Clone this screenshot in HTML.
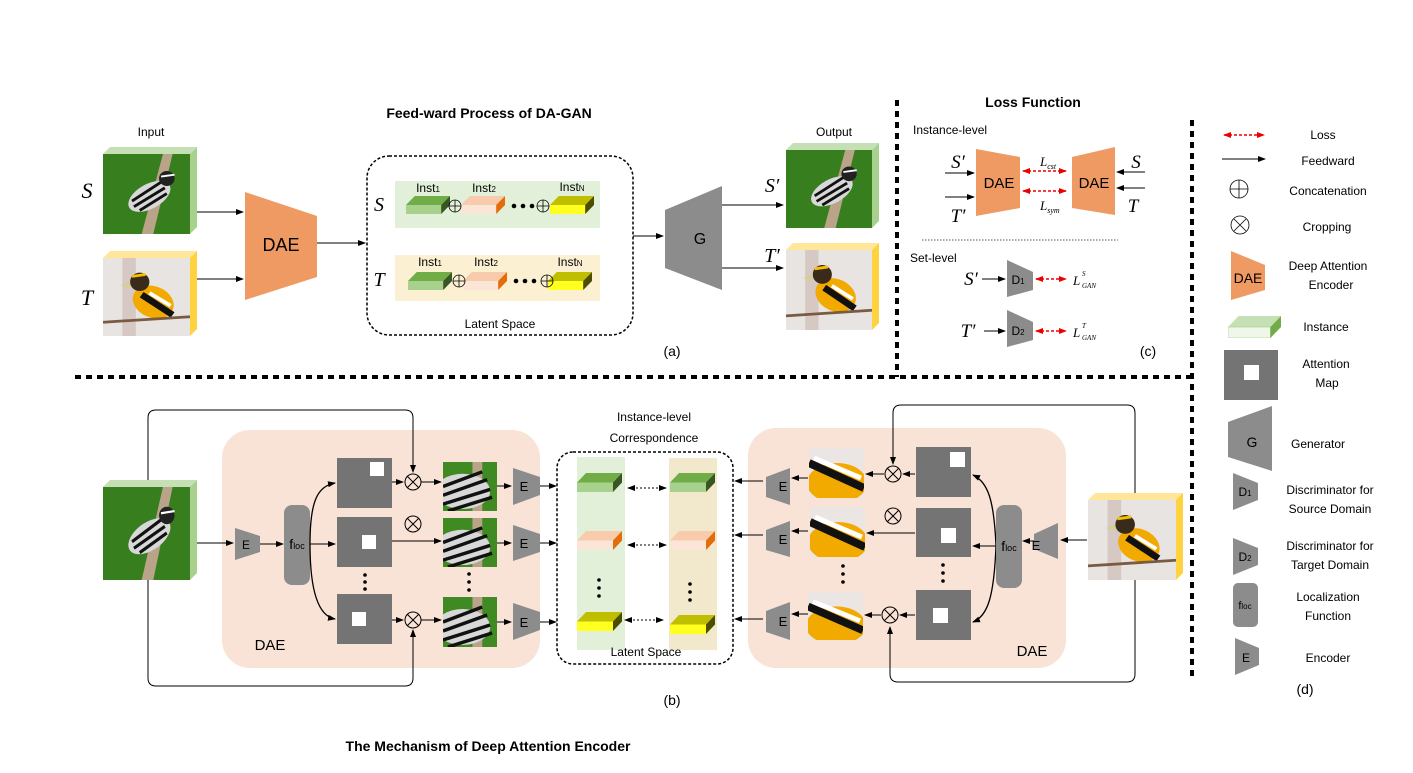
<!DOCTYPE html>
<html><head><meta charset="utf-8"><style>
html,body{margin:0;padding:0;background:#fff;}
svg{display:block;font-family:"Liberation Sans",sans-serif;}
.it{font-family:"Liberation Serif",serif;font-style:italic;}
</style></head><body>
<svg width="1413" height="773" viewBox="0 0 1413 773" xmlns="http://www.w3.org/2000/svg">
<defs>
<marker id="ar" markerWidth="8" markerHeight="8" refX="7" refY="4" orient="auto" markerUnits="userSpaceOnUse"><path d="M0,1 L8,4 L0,7 z" fill="#000"/></marker>
<marker id="rr" markerWidth="8" markerHeight="8" refX="7" refY="4" orient="auto" markerUnits="userSpaceOnUse"><path d="M0,1 L8,4 L0,7 z" fill="#e00"/></marker>
<marker id="rl" markerWidth="8" markerHeight="8" refX="1" refY="4" orient="auto" markerUnits="userSpaceOnUse"><path d="M8,1 L0,4 L8,7 z" fill="#e00"/></marker>
<marker id="bl" markerWidth="8" markerHeight="8" refX="1" refY="4" orient="auto" markerUnits="userSpaceOnUse"><path d="M8,1 L0,4 L8,7 z" fill="#000"/></marker>
<symbol id="bg" viewBox="0 0 50 20" preserveAspectRatio="none"><polygon points="0,10 40,10 50,0 10,0" fill="#70ad47"/><rect x="0" y="10" width="40" height="10" fill="#a9d18e"/><polygon points="40,10 50,0 50,10 40,20" fill="#375623"/></symbol>
<symbol id="bs" viewBox="0 0 50 20" preserveAspectRatio="none"><polygon points="0,10 40,10 50,0 10,0" fill="#f8cbad"/><rect x="0" y="10" width="40" height="10" fill="#fbe5d6"/><polygon points="40,10 50,0 50,10 40,20" fill="#e46c0a"/></symbol>
<symbol id="by" viewBox="0 0 50 20" preserveAspectRatio="none"><polygon points="0,10 40,10 50,0 10,0" fill="#bfbf00"/><rect x="0" y="10" width="40" height="10" fill="#ffff20"/><polygon points="40,10 50,0 50,10 40,20" fill="#4d4d00"/></symbol>
<symbol id="bl2" viewBox="0 0 50 20" preserveAspectRatio="none"><polygon points="0,10 40,10 50,0 10,0" fill="#c5e0b4"/><rect x="0" y="10" width="40" height="10" fill="#eef7e8" stroke="#a9d18e" stroke-width="0.6"/><polygon points="40,10 50,0 50,10 40,20" fill="#70ad47"/></symbol>
<symbol id="sb" viewBox="0 0 90 85" preserveAspectRatio="none"><rect width="90" height="85" fill="#3f8a22"/><rect width="90" height="85" fill="#2d6b18" opacity=".4"/><polygon points="62,0 72,0 52,85 40,85" fill="#b9a48a"/><ellipse cx="48" cy="45" rx="24" ry="13" fill="#d8d8d8" transform="rotate(-30 48 45)"/><path d="M30,50 L60,30 M32,56 L64,36 M38,60 L66,42" stroke="#111" stroke-width="3"/><circle cx="66" cy="26" r="8" fill="#222"/><path d="M60,24 L74,22" stroke="#fff" stroke-width="2"/></symbol>
<symbol id="tb" viewBox="0 0 90 85" preserveAspectRatio="none"><rect width="90" height="85" fill="#e8e4e2"/><rect x="20" y="0" width="14" height="85" fill="#c9b8b0" opacity=".6"/><ellipse cx="52" cy="48" rx="22" ry="17" fill="#f2a900" transform="rotate(25 52 48)"/><path d="M40,40 L72,62" stroke="#111" stroke-width="7"/><path d="M48,38 L70,52" stroke="#fff" stroke-width="4"/><circle cx="38" cy="26" r="10" fill="#3a2a1a"/><path d="M30,20 L44,18" stroke="#f5c000" stroke-width="3"/><polygon points="28,26 18,30 28,32" fill="#d6d08a"/><path d="M0,70 L90,64" stroke="#7a5a40" stroke-width="3"/></symbol>
<symbol id="sc" viewBox="0 0 55 50" preserveAspectRatio="none"><rect width="55" height="50" fill="#3f8a22"/><rect x="30" width="10" height="50" fill="#b9a48a"/><ellipse cx="20" cy="30" rx="28" ry="18" fill="#d8d8d8"/><path d="M0,25 L40,10 M0,34 L45,18 M0,43 L48,28 M5,50 L50,36" stroke="#111" stroke-width="3.5"/></symbol>
<symbol id="tc" viewBox="0 0 55 50" preserveAspectRatio="none"><rect width="55" height="50" fill="#ebe6e4"/><ellipse cx="28" cy="35" rx="30" ry="20" fill="#f2a900"/><path d="M0,15 L55,40" stroke="#111" stroke-width="8"/><path d="M5,10 L52,30" stroke="#fff" stroke-width="5"/></symbol>
<symbol id="am" viewBox="0 0 55 50" preserveAspectRatio="none"><rect width="55" height="50" fill="#747474"/></symbol>
</defs>

<!-- separators -->
<line x1="75" y1="377" x2="1190" y2="377" stroke="#000" stroke-width="4" stroke-dasharray="6,5"/>
<line x1="897" y1="100" x2="897" y2="377" stroke="#000" stroke-width="4" stroke-dasharray="6,5"/>
<line x1="1192" y1="120" x2="1192" y2="680" stroke="#000" stroke-width="4" stroke-dasharray="6,5"/>

<!-- (a) -->
<text x="489" y="118" font-size="14" font-weight="bold" text-anchor="middle">Feed-ward Process of DA-GAN</text>
<text x="151" y="136" font-size="12" text-anchor="middle">Input</text>
<polygon points="103,154 110,147 197,147 190,154" fill="#c5e0b4"/><polygon points="190,154 197,147 197,227 190,234" fill="#a9d18e"/>
<use href="#sb" x="103" y="154" width="87" height="80"/>
<polygon points="103,258 110,251 197,251 190,258" fill="#ffe699"/><polygon points="190,258 197,251 197,329 190,336" fill="#ffd33f"/>
<use href="#tb" x="103" y="258" width="87" height="78"/>
<text x="87" y="198" font-size="22" class="it" text-anchor="middle">S</text>
<text x="87" y="305" font-size="22" class="it" text-anchor="middle">T</text>
<line x1="197" y1="212" x2="243" y2="212" stroke="#000" marker-end="url(#ar)"/>
<line x1="197" y1="279" x2="243" y2="279" stroke="#000" marker-end="url(#ar)"/>
<polygon points="245,192 317,216 317,277 245,300" fill="#ee9a62"/>
<text x="281" y="251" font-size="18" text-anchor="middle">DAE</text>
<line x1="317" y1="243" x2="365" y2="243" stroke="#000" marker-end="url(#ar)"/>
<rect x="367" y="156" width="266" height="179" rx="22" fill="none" stroke="#000" stroke-width="1.5" stroke-dasharray="3,2"/>
<rect x="395" y="181" width="205" height="47" fill="#e2f0d9"/>
<rect x="395" y="255" width="205" height="46" fill="#fbf0d2"/>
<text x="379" y="211" font-size="20" class="it" text-anchor="middle">S</text>
<text x="379" y="286" font-size="20" class="it" text-anchor="middle">T</text>
<g font-size="12" text-anchor="middle">
<text x="428" y="192">Inst<tspan font-size="8">1</tspan></text><text x="484" y="192">Inst<tspan font-size="8">2</tspan></text><text x="572" y="191">Inst<tspan font-size="8">N</tspan></text>
<text x="430" y="266">Inst<tspan font-size="8">1</tspan></text><text x="486" y="266">Inst<tspan font-size="8">2</tspan></text><text x="570" y="266">Inst<tspan font-size="8">N</tspan></text>
</g>
<use href="#bg" x="406" y="196" width="44" height="18"/><use href="#bs" x="461" y="196" width="44" height="18"/><use href="#by" x="550" y="196" width="44" height="18"/>
<use href="#bg" x="408" y="272" width="44" height="18"/><use href="#bs" x="463" y="272" width="44" height="18"/><use href="#by" x="548" y="272" width="44" height="18"/>
<g fill="none" stroke="#000" stroke-width="0.8">
<circle cx="455" cy="206" r="6"/><path d="M449,206h12M455,200v12"/>
<circle cx="543" cy="206" r="6"/><path d="M537,206h12M543,200v12"/>
<circle cx="459" cy="281" r="6"/><path d="M453,281h12M459,275v12"/>
<circle cx="547" cy="281" r="6"/><path d="M541,281h12M547,275v12"/>
</g>
<g fill="#000"><circle cx="514" cy="206" r="2.3"/><circle cx="523" cy="206" r="2.3"/><circle cx="532" cy="206" r="2.3"/><circle cx="516" cy="281" r="2.3"/><circle cx="525" cy="281" r="2.3"/><circle cx="534" cy="281" r="2.3"/></g>
<text x="500" y="328" font-size="12" text-anchor="middle">Latent Space</text>
<line x1="633" y1="236" x2="663" y2="236" stroke="#000" marker-end="url(#ar)"/>
<polygon points="665,210 722,186 722,290 665,268" fill="#8c8c8c"/>
<text x="700" y="244" font-size="16" text-anchor="middle">G</text>
<line x1="722" y1="205" x2="783" y2="205" stroke="#000" marker-end="url(#ar)"/>
<line x1="722" y1="268" x2="783" y2="268" stroke="#000" marker-end="url(#ar)"/>
<text x="772" y="192" font-size="20" class="it" text-anchor="middle">S′</text>
<text x="772" y="262" font-size="20" class="it" text-anchor="middle">T′</text>
<text x="834" y="136" font-size="12" text-anchor="middle">Output</text>
<polygon points="786,150 793,143 879,143 872,150" fill="#c5e0b4"/><polygon points="872,150 879,143 879,221 872,228" fill="#a9d18e"/>
<use href="#sb" x="786" y="150" width="86" height="78"/>
<polygon points="786,250 793,243 879,243 872,250" fill="#ffe699"/><polygon points="872,250 879,243 879,323 872,330" fill="#ffd33f"/>
<use href="#tb" x="786" y="250" width="86" height="80"/>
<text x="672" y="356" font-size="14" text-anchor="middle">(a)</text>

<!-- (c) -->
<text x="1033" y="107" font-size="14" font-weight="bold" text-anchor="middle">Loss Function</text>
<text x="913" y="134" font-size="12">Instance-level</text>
<polygon points="976,149 1020,157 1020,208 976,216" fill="#ee9a62"/>
<text x="999" y="188" font-size="15" text-anchor="middle">DAE</text>
<polygon points="1072,157 1115,147 1115,215 1072,208" fill="#ee9a62"/>
<text x="1094" y="188" font-size="15" text-anchor="middle">DAE</text>
<line x1="1023" y1="171" x2="1066" y2="171" stroke="#e00" stroke-width="1.5" stroke-dasharray="3,2" marker-end="url(#rr)" marker-start="url(#rl)"/>
<line x1="1023" y1="191" x2="1066" y2="191" stroke="#e00" stroke-width="1.5" stroke-dasharray="3,2" marker-end="url(#rr)" marker-start="url(#rl)"/>
<text x="1040" y="166" font-size="13" class="it">L<tspan font-size="8" dy="3">cst</tspan></text>
<text x="1040" y="210" font-size="13" class="it">L<tspan font-size="8" dy="3">sym</tspan></text>
<text x="958" y="168" font-size="19" class="it" text-anchor="middle">S′</text>
<text x="958" y="222" font-size="19" class="it" text-anchor="middle">T′</text>
<line x1="945" y1="173" x2="974" y2="173" stroke="#000" marker-end="url(#ar)"/>
<line x1="945" y1="197" x2="974" y2="197" stroke="#000" marker-end="url(#ar)"/>
<text x="1136" y="168" font-size="19" class="it" text-anchor="middle">S</text>
<text x="1133" y="212" font-size="19" class="it" text-anchor="middle">T</text>
<line x1="1145" y1="172" x2="1117" y2="172" stroke="#000" marker-end="url(#ar)"/>
<line x1="1145" y1="188" x2="1117" y2="188" stroke="#000" marker-end="url(#ar)"/>
<line x1="922" y1="240" x2="1118" y2="240" stroke="#555" stroke-dasharray="1.5,1.5"/>
<text x="910" y="262" font-size="12">Set-level</text>
<polygon points="1007,260 1033,272 1033,290 1007,297" fill="#8c8c8c"/>
<text x="1018" y="284" font-size="12" text-anchor="middle">D<tspan font-size="8">1</tspan></text>
<polygon points="1007,310 1033,322 1033,340 1007,347" fill="#8c8c8c"/>
<text x="1018" y="335" font-size="12" text-anchor="middle">D<tspan font-size="8">2</tspan></text>
<text x="971" y="285" font-size="19" class="it" text-anchor="middle">S′</text>
<text x="968" y="337" font-size="19" class="it" text-anchor="middle">T′</text>
<line x1="982" y1="279" x2="1005" y2="279" stroke="#000" marker-end="url(#ar)"/>
<line x1="984" y1="331" x2="1005" y2="331" stroke="#000" marker-end="url(#ar)"/>
<line x1="1036" y1="279" x2="1066" y2="279" stroke="#e00" stroke-width="1.5" stroke-dasharray="3,2" marker-end="url(#rr)" marker-start="url(#rl)"/>
<line x1="1036" y1="331" x2="1066" y2="331" stroke="#e00" stroke-width="1.5" stroke-dasharray="3,2" marker-end="url(#rr)" marker-start="url(#rl)"/>
<text x="1073" y="285" font-size="13" class="it">L</text><text x="1082" y="276" font-size="7" class="it">S</text><text x="1082" y="288" font-size="7" class="it">GAN</text>
<text x="1073" y="337" font-size="13" class="it">L</text><text x="1082" y="328" font-size="7" class="it">T</text><text x="1082" y="340" font-size="7" class="it">GAN</text>
<text x="1148" y="356" font-size="14" text-anchor="middle">(c)</text>

<!-- (d) legend -->
<line x1="1224" y1="135" x2="1264" y2="135" stroke="#e00" stroke-width="1.5" stroke-dasharray="3,2" marker-end="url(#rr)" marker-start="url(#rl)"/>
<text x="1323" y="139" font-size="12" text-anchor="middle">Loss</text>
<line x1="1222" y1="159" x2="1265" y2="159" stroke="#000" marker-end="url(#ar)"/>
<text x="1328" y="165" font-size="12" text-anchor="middle">Feedward</text>
<g fill="none" stroke="#000" stroke-width="0.8"><circle cx="1239" cy="189" r="9"/><path d="M1230,189h18M1239,180v18"/><circle cx="1240" cy="225" r="9"/><path d="M1234,219l12,12M1246,219l-12,12"/></g>
<text x="1328" y="195" font-size="12" text-anchor="middle">Concatenation</text>
<text x="1327" y="231" font-size="12" text-anchor="middle">Cropping</text>
<polygon points="1231,251 1265,265 1265,290 1231,300" fill="#ee9a62"/>
<text x="1248" y="283" font-size="14" text-anchor="middle">DAE</text>
<text x="1328" y="270" font-size="12" text-anchor="middle">Deep Attention</text>
<text x="1331" y="289" font-size="12" text-anchor="middle">Encoder</text>
<use href="#bl2" x="1228" y="316" width="53" height="22"/>
<text x="1326" y="331" font-size="12" text-anchor="middle">Instance</text>
<rect x="1224" y="350" width="54" height="50" fill="#747474"/><rect x="1244" y="365" width="15" height="15" fill="#fff"/>
<text x="1326" y="368" font-size="12" text-anchor="middle">Attention</text>
<text x="1327" y="387" font-size="12" text-anchor="middle">Map</text>
<polygon points="1228,422 1272,406 1272,471 1228,457" fill="#8c8c8c"/>
<text x="1252" y="447" font-size="14" text-anchor="middle">G</text>
<text x="1318" y="448" font-size="12" text-anchor="middle">Generator</text>
<polygon points="1233,473 1258,483 1258,500 1233,510" fill="#8c8c8c"/>
<text x="1245" y="496" font-size="12" text-anchor="middle">D<tspan font-size="8">1</tspan></text>
<text x="1330" y="494" font-size="12" text-anchor="middle">Discriminator for</text>
<text x="1330" y="513" font-size="12" text-anchor="middle">Source Domain</text>
<polygon points="1233,538 1258,548 1258,565 1233,575" fill="#8c8c8c"/>
<text x="1245" y="561" font-size="12" text-anchor="middle">D<tspan font-size="8">2</tspan></text>
<text x="1330" y="550" font-size="12" text-anchor="middle">Discriminator for</text>
<text x="1330" y="569" font-size="12" text-anchor="middle">Target Domain</text>
<rect x="1233" y="583" width="25" height="44" rx="5" fill="#8c8c8c"/>
<text x="1245" y="609" font-size="11" text-anchor="middle">f<tspan font-size="8">loc</tspan></text>
<text x="1328" y="601" font-size="12" text-anchor="middle">Localization</text>
<text x="1328" y="620" font-size="12" text-anchor="middle">Function</text>
<polygon points="1235,638 1259,648 1259,665 1235,675" fill="#8c8c8c"/>
<text x="1246" y="662" font-size="12" text-anchor="middle">E</text>
<text x="1328" y="662" font-size="12" text-anchor="middle">Encoder</text>
<text x="1305" y="694" font-size="14" text-anchor="middle">(d)</text>

<!-- (b) -->
<rect x="222" y="430" width="318" height="238" rx="28" fill="#f8e3d6"/>
<rect x="748" y="428" width="318" height="240" rx="28" fill="#f8e3d6"/>
<!-- loops -->
<path d="M148,480 V418 Q148,410 156,410 H405 Q413,410 413,418 V472" fill="none" stroke="#000" marker-end="url(#ar)"/>
<path d="M148,580 V678 Q148,686 156,686 H405 Q413,686 413,678 V630" fill="none" stroke="#000" marker-end="url(#ar)"/>
<path d="M1135,493 V413 Q1135,405 1127,405 H901 Q893,405 893,413 V464" fill="none" stroke="#000" marker-end="url(#ar)"/>
<path d="M1135,580 V674 Q1135,682 1127,682 H898 Q890,682 890,674 V627" fill="none" stroke="#000" marker-end="url(#ar)"/>
<!-- source image -->
<polygon points="103,487 110,480 197,480 190,487" fill="#c5e0b4"/><polygon points="190,487 197,480 197,573 190,580" fill="#a9d18e"/>
<use href="#sb" x="103" y="487" width="87" height="93"/>
<line x1="197" y1="543" x2="233" y2="543" stroke="#000" marker-end="url(#ar)"/>
<polygon points="235,528 260,536 260,552 235,560" fill="#8c8c8c"/>
<text x="246" y="549" font-size="12" text-anchor="middle">E</text>
<line x1="260" y1="544" x2="283" y2="544" stroke="#000" marker-end="url(#ar)"/>
<rect x="284" y="505" width="26" height="80" rx="8" fill="#8c8c8c"/>
<text x="297" y="549" font-size="14" text-anchor="middle">f<tspan font-size="9">loc</tspan></text>
<path d="M310,544 C310,500 318,486 335,483" fill="none" stroke="#000" stroke-width="1.3" marker-end="url(#ar)"/>
<path d="M310,544 C310,590 318,616 335,619" fill="none" stroke="#000" stroke-width="1.3" marker-end="url(#ar)"/>
<line x1="310" y1="544" x2="335" y2="544" stroke="#000" marker-end="url(#ar)"/>
<use href="#am" x="337" y="458" width="55" height="50"/><rect x="370" y="462" width="14" height="14" fill="#fff"/>
<use href="#am" x="337" y="517" width="55" height="50"/><rect x="362" y="535" width="14" height="14" fill="#fff"/>
<use href="#am" x="337" y="594" width="55" height="50"/><rect x="352" y="612" width="14" height="14" fill="#fff"/>
<g fill="none" stroke="#000" stroke-width="1"><circle cx="413" cy="482" r="8"/><path d="M407,476l12,12M419,476l-12,12"/><circle cx="413" cy="524" r="8"/><path d="M407,518l12,12M419,518l-12,12"/><circle cx="413" cy="620" r="8"/><path d="M407,614l12,12M419,614l-12,12"/></g>
<line x1="392" y1="482" x2="403" y2="482" stroke="#000" marker-end="url(#ar)"/>
<line x1="421" y1="482" x2="441" y2="482" stroke="#000" marker-end="url(#ar)"/>
<line x1="392" y1="541" x2="441" y2="541" stroke="#000" marker-end="url(#ar)"/>
<line x1="392" y1="620" x2="403" y2="620" stroke="#000" marker-end="url(#ar)"/>
<line x1="421" y1="620" x2="441" y2="620" stroke="#000" marker-end="url(#ar)"/>
<use href="#sc" x="443" y="462" width="54" height="49"/>
<use href="#sc" x="443" y="518" width="54" height="49"/>
<use href="#sc" x="443" y="597" width="54" height="50"/>
<g fill="#000"><circle cx="365" cy="575" r="1.8"/><circle cx="365" cy="582" r="1.8"/><circle cx="365" cy="589" r="1.8"/><circle cx="469" cy="574" r="1.8"/><circle cx="469" cy="582" r="1.8"/><circle cx="469" cy="590" r="1.8"/></g>
<g fill="#8c8c8c"><polygon points="513,468 540,477 540,495 513,505"/><polygon points="513,525 540,534 540,552 513,561"/><polygon points="513,603 540,612 540,630 513,640"/></g>
<g font-size="13" text-anchor="middle"><text x="524" y="491">E</text><text x="524" y="548">E</text><text x="524" y="627">E</text></g>
<line x1="497" y1="486" x2="511" y2="486" stroke="#000" marker-end="url(#ar)"/>
<line x1="497" y1="543" x2="511" y2="543" stroke="#000" marker-end="url(#ar)"/>
<line x1="497" y1="622" x2="511" y2="622" stroke="#000" marker-end="url(#ar)"/>
<line x1="540" y1="486" x2="556" y2="486" stroke="#000" marker-end="url(#ar)"/>
<line x1="540" y1="543" x2="556" y2="543" stroke="#000" marker-end="url(#ar)"/>
<line x1="540" y1="622" x2="556" y2="622" stroke="#000" marker-end="url(#ar)"/>
<text x="270" y="650" font-size="15" text-anchor="middle">DAE</text>
<!-- center -->
<text x="654" y="421" font-size="12" text-anchor="middle">Instance-level</text>
<text x="654" y="442" font-size="12" text-anchor="middle">Correspondence</text>
<rect x="557" y="452" width="176" height="212" rx="16" fill="none" stroke="#000" stroke-width="1.5" stroke-dasharray="3,2"/>
<rect x="577" y="457" width="48" height="193" fill="#e2f0d9"/>
<rect x="669" y="458" width="48" height="192" fill="#f2e9cc"/>
<use href="#bg" x="577" y="473" width="45" height="19"/><use href="#bg" x="670" y="473" width="45" height="19"/>
<use href="#bs" x="577" y="531" width="45" height="19"/><use href="#bs" x="670" y="531" width="45" height="19"/>
<use href="#by" x="577" y="612" width="45" height="19"/><use href="#by" x="670" y="615" width="45" height="19"/>
<g stroke="#000" stroke-dasharray="2,2"><line x1="628" y1="488" x2="666" y2="488" marker-start="url(#bl)" marker-end="url(#ar)"/><line x1="628" y1="545" x2="666" y2="545" marker-start="url(#bl)" marker-end="url(#ar)"/><line x1="625" y1="620" x2="663" y2="620" marker-start="url(#bl)" marker-end="url(#ar)"/></g>
<g fill="#000"><circle cx="599" cy="580" r="1.8"/><circle cx="599" cy="588" r="1.8"/><circle cx="599" cy="596" r="1.8"/><circle cx="690" cy="584" r="1.8"/><circle cx="690" cy="592" r="1.8"/><circle cx="690" cy="600" r="1.8"/></g>
<text x="646" y="656" font-size="12" text-anchor="middle">Latent Space</text>
<!-- right side -->
<line x1="763" y1="481" x2="735" y2="481" stroke="#000" marker-end="url(#ar)"/>
<line x1="763" y1="535" x2="735" y2="535" stroke="#000" marker-end="url(#ar)"/>
<line x1="763" y1="619" x2="735" y2="619" stroke="#000" marker-end="url(#ar)"/>
<g fill="#8c8c8c"><polygon points="766,477 790,468 790,505 766,497"/><polygon points="766,530 790,521 790,557 766,550"/><polygon points="766,611 790,602 790,640 766,632"/></g>
<g font-size="13" text-anchor="middle"><text x="783" y="491">E</text><text x="783" y="544">E</text><text x="783" y="626">E</text></g>
<line x1="808" y1="478" x2="792" y2="478" stroke="#000" marker-end="url(#ar)"/>
<line x1="808" y1="531" x2="792" y2="531" stroke="#000" marker-end="url(#ar)"/>
<line x1="808" y1="614" x2="792" y2="614" stroke="#000" marker-end="url(#ar)"/>
<use href="#tc" x="809" y="448" width="55" height="50"/>
<use href="#tc" x="810" y="507" width="55" height="50"/>
<use href="#tc" x="808" y="592" width="55" height="48"/>
<g fill="none" stroke="#000" stroke-width="1"><circle cx="893" cy="474" r="8"/><path d="M887,468l12,12M899,468l-12,12"/><circle cx="893" cy="516" r="8"/><path d="M887,510l12,12M899,510l-12,12"/><circle cx="890" cy="615" r="8"/><path d="M884,609l12,12M896,609l-12,12"/></g>
<line x1="884" y1="474" x2="866" y2="474" stroke="#000" marker-end="url(#ar)"/>
<line x1="915" y1="474" x2="903" y2="474" stroke="#000" marker-end="url(#ar)"/>
<line x1="915" y1="533" x2="867" y2="533" stroke="#000" marker-end="url(#ar)"/>
<line x1="881" y1="615" x2="865" y2="615" stroke="#000" marker-end="url(#ar)"/>
<line x1="915" y1="615" x2="900" y2="615" stroke="#000" marker-end="url(#ar)"/>
<use href="#am" x="916" y="447" width="55" height="50"/><rect x="950" y="452" width="15" height="15" fill="#fff"/>
<use href="#am" x="916" y="508" width="55" height="49"/><rect x="941" y="528" width="15" height="15" fill="#fff"/>
<use href="#am" x="916" y="590" width="55" height="50"/><rect x="933" y="608" width="15" height="15" fill="#fff"/>
<g fill="#000"><circle cx="843" cy="566" r="1.8"/><circle cx="843" cy="574" r="1.8"/><circle cx="843" cy="582" r="1.8"/><circle cx="943" cy="565" r="1.8"/><circle cx="943" cy="573" r="1.8"/><circle cx="943" cy="581" r="1.8"/></g>
<path d="M996,546 C994,500 988,482 973,475" fill="none" stroke="#000" stroke-width="1.3" marker-end="url(#ar)"/>
<path d="M996,546 C994,596 988,616 973,622" fill="none" stroke="#000" stroke-width="1.3" marker-end="url(#ar)"/>
<line x1="996" y1="546" x2="973" y2="546" stroke="#000" marker-end="url(#ar)"/>
<rect x="996" y="505" width="26" height="83" rx="8" fill="#8c8c8c"/>
<text x="1009" y="551" font-size="14" text-anchor="middle">f<tspan font-size="9">loc</tspan></text>
<polygon points="1034,534 1058,523 1058,559 1034,549" fill="#8c8c8c"/>
<text x="1036" y="550" font-size="13" text-anchor="middle">E</text>
<line x1="1034" y1="541" x2="1023" y2="541" stroke="#000" marker-end="url(#ar)"/>
<line x1="1087" y1="540" x2="1061" y2="540" stroke="#000" marker-end="url(#ar)"/>
<polygon points="1088,500 1095,493 1183,493 1183,500" fill="#ffe699"/><polygon points="1176,500 1183,493 1183,573 1176,580" fill="#ffd33f"/>
<use href="#tb" x="1088" y="500" width="88" height="80"/>
<text x="1032" y="656" font-size="15" text-anchor="middle">DAE</text>
<text x="672" y="705" font-size="14" text-anchor="middle">(b)</text>
<text x="488" y="751" font-size="14" font-weight="bold" text-anchor="middle">The Mechanism of Deep Attention Encoder</text>
</svg>
</body></html>
